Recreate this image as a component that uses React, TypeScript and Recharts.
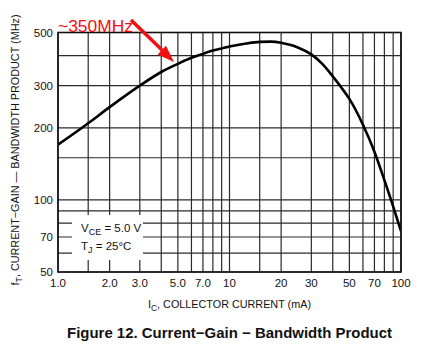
import { LineChart, Line, XAxis, YAxis, CartesianGrid } from 'recharts';

// collector current Ic (mA) and fT (MHz)
const currentMA = [1, 1.5, 2, 3, 4, 5, 6, 7, 8, 9, 10, 12.5, 15, 17.5, 20, 22.5, 25, 30, 35, 40, 45, 50, 60, 70, 80, 90, 100];
const ftMHz = [170, 209, 244, 300, 342, 370, 392, 407, 421, 429, 437, 450, 457, 458, 453, 444, 433, 405, 368, 328, 294, 264, 206, 159, 121, 94, 74];

const xGrid = [1, 1.5, 2, 3, 4, 5, 6, 7, 8, 9, 10, 15, 20, 30, 40, 50, 60, 70, 80, 90, 100];
const xLabels = ['1.0', '2.0', '3.0', '5.0', '7.0', '10', '20', '30', '50', '70', '100'];
const xLabelValues = [1, 2, 3, 5, 7, 10, 20, 30, 50, 70, 100];

const yGrid = [50, 60, 70, 80, 90, 100, 150, 200, 300, 400, 500];
const yLabelValues = [50, 70, 100, 200, 300, 500];

const data = currentMA.map((ic, i) => ({ ic, ft: ftMHz[i] }));

const FONT = '"Liberation Sans", Arial, sans-serif';
const W = 437;
const H = 352;

const xFmt = (v: number) => {
  const i = xLabelValues.indexOf(v);
  return i >= 0 ? xLabels[i] : '';
};
const yFmt = (v: number) => (yLabelValues.includes(v) ? String(v) : '');

export default function App() {
  return (
    <div style={{ position: 'absolute', left: 0, top: 0, width: W, height: H, background: '#fff' }}>
      <LineChart width={W} height={H} data={data} margin={{ top: 32.5, right: 36, bottom: 50, left: 8 }}>
        <CartesianGrid stroke="#2a2a2a" strokeWidth={1.2} />
        <XAxis
          dataKey="ic"
          type="number"
          scale="log"
          domain={[1, 100]}
          ticks={xGrid}
          interval={0}
          tickFormatter={xFmt}
          tickLine={false}
          axisLine={false}
          tickSize={5}
          tickMargin={2}
          height={30}
          allowDataOverflow
          tick={{ fontSize: 11.5, fontFamily: FONT, fill: '#111' }}
        />
        <YAxis
          dataKey="ft"
          type="number"
          scale="log"
          domain={[50, 500]}
          ticks={yGrid}
          interval={0}
          tickFormatter={yFmt}
          tickLine={false}
          axisLine={false}
          tickSize={4}
          tickMargin={1}
          width={50}
          allowDataOverflow
          tick={{ fontSize: 11.5, fontFamily: FONT, fill: '#111' }}
        />
        <Line
          type="monotone"
          dataKey="ft"
          stroke="#000"
          strokeWidth={2.6}
          dot={false}
          isAnimationActive={false}
        />
      </LineChart>
      <svg
        width={W}
        height={H}
        style={{ position: 'absolute', left: 0, top: 0, pointerEvents: 'none' }}
        fontFamily={FONT}
      >
        <rect x={58} y={32.5} width={343} height={239.5} fill="none" stroke="#111" strokeWidth={1.6} />
        {/* conditions box */}
        <rect x={72} y={215} width={71} height={45} fill="#fff" />
        <text x={81} y={231.5} fontSize={11.5} fill="#111">
          V<tspan fontSize={9} dy={3}>CE</tspan>
          <tspan dy={-3}> = 5.0 V</tspan>
        </text>
        <text x={81} y={250} fontSize={11.5} fill="#111">
          T<tspan fontSize={9} dy={3}>J</tspan>
          <tspan dy={-3}> = 25°C</tspan>
        </text>
        {/* axis titles */}
        <text
          transform="translate(19,150) rotate(-90)"
          textAnchor="middle"
          fontSize={11}
          fill="#111"
          textLength={271}
          lengthAdjust="spacingAndGlyphs"
        >
          f<tspan fontSize={9} dy={3}>T</tspan>
          <tspan dy={-3}>, CURRENT−GAIN — BANDWIDTH PRODUCT (MHz)</tspan>
        </text>
        <text x={148} y={308} fontSize={11.5} fill="#111" textLength={163} lengthAdjust="spacingAndGlyphs">
          I<tspan fontSize={9} dy={3}>C</tspan>
          <tspan dy={-3}>, COLLECTOR CURRENT (mA)</tspan>
        </text>
        <text
          x={67}
          y={338}
          fontSize={14.5}
          fontWeight="bold"
          fill="#111"
          textLength={325}
          lengthAdjust="spacingAndGlyphs"
        >
          Figure 12. Current−Gain − Bandwidth Product
        </text>
        {/* red annotation */}
        <text x={58} y={32} fontSize={16} fill="#f01010" textLength={75} lengthAdjust="spacingAndGlyphs">
          ~350MHz
        </text>
        <line x1={131} y1={20} x2={162} y2={50} stroke="#f01010" strokeWidth={3.5} />
        <polygon points="174,62 157.6,54.4 166,45.8" fill="#f01010" />
      </svg>
    </div>
  );
}
